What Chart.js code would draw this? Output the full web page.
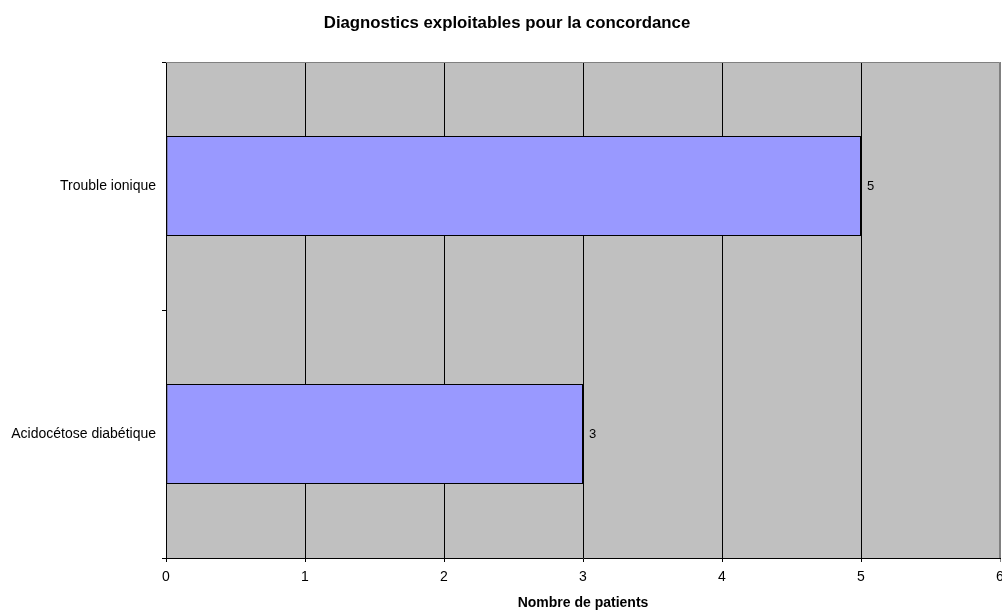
<!DOCTYPE html>
<html>
<head>
<meta charset="utf-8">
<script src="https://cdn.jsdelivr.net/npm/chart.js@4/dist/chart.umd.min.js"></script>
<style>
  html,body{margin:0;padding:0;background:#fff;}
  #wrap{width:1002px;height:611px;}
</style>
</head>
<body>
<div id="wrap"><canvas id="chart"></canvas></div>
<script>
// Chart data
const TITLE = 'Diagnostics exploitables pour la concordance';
const categories = ['Trouble ionique', 'Acidocétose diabétique'];
const patients = [5, 3];
const xTicks = [0, 1, 2, 3, 4, 5, 6];

const FONT = '"Liberation Sans", Arial, sans-serif';

// gray plot area + gray top/right frame + title
const plotBg = {
  id: 'plotBg',
  beforeDraw(chart){
    const {ctx, chartArea:a} = chart;
    ctx.save();
    ctx.fillStyle = '#c0c0c0';
    ctx.fillRect(a.left, a.top, a.right - a.left, a.bottom - a.top);
    ctx.restore();
  },
  afterDraw(chart){
    const {ctx, chartArea:a} = chart;
    ctx.save();
    ctx.strokeStyle = '#808080';
    ctx.lineWidth = 1;
    ctx.beginPath();
    ctx.moveTo(a.left, a.top + 0.5);
    ctx.lineTo(a.right - 0.5, a.top + 0.5);
    ctx.lineTo(a.right - 0.5, a.bottom);
    ctx.stroke();
    // title, slightly right of the canvas centre like the original
    ctx.font = 'bold 16.8px ' + FONT;
    ctx.fillStyle = '#000';
    ctx.textAlign = 'center';
    ctx.textBaseline = 'middle';
    ctx.fillText(TITLE, 507, 23);
    ctx.restore();
  }
};

// value labels at the bar ends
const valueLabels = {
  id: 'valueLabels',
  afterDatasetsDraw(chart){
    const {ctx} = chart;
    const meta = chart.getDatasetMeta(0);
    ctx.save();
    ctx.font = '13px ' + FONT;
    ctx.fillStyle = '#000';
    ctx.textAlign = 'left';
    ctx.textBaseline = 'middle';
    meta.data.forEach((bar, i)=>{
      ctx.fillText(String(patients[i]), bar.x + 6, bar.y);
    });
    ctx.restore();
  }
};

new Chart(document.getElementById('chart').getContext('2d'), {
  type: 'bar',
  data: {
    labels: categories,
    datasets: [{
      data: patients,
      backgroundColor: '#9999ff',
      borderColor: '#000',
      borderWidth: 1,
      borderSkipped: false,
      categoryPercentage: 1,
      barPercentage: 0.403
    }]
  },
  options: {
    indexAxis: 'y',
    responsive: true,
    maintainAspectRatio: false,
    animation: false,
    devicePixelRatio: 1,
    layout: { padding: { left: 0, right: 2, top: 62, bottom: 0 } },
    plugins: {
      legend: { display: false },
      tooltip: { enabled: false },
      title: { display: false }
    },
    scales: {
      x: {
        min: 0, max: 6,
        afterFit(scale){ scale.height = 53; scale.paddingLeft = 0; scale.paddingRight = 0; },
        afterBuildTicks(scale){ scale.ticks = xTicks.map(v=>({value:v})); },
        ticks: { color: '#000', font: { family: FONT, size: 14 }, padding: 7, maxRotation: 0 },
        grid: {
          color: ctx => ctx.tick && ctx.tick.value === 6 ? '#808080' : '#000',
          lineWidth: 1,
          tickLength: 4,
          drawOnChartArea: true
        },
        border: { color: '#000', width: 1 },
        title: {
          display: true,
          text: 'Nombre de patients',
          color: '#000',
          font: { family: FONT, size: 14, weight: 'bold', lineHeight: 1 },
          padding: { top: 0, bottom: 1 }
        }
      },
      y: {
        afterFit(scale){ scale.width = 166; scale.paddingTop = 0; scale.paddingBottom = 0; },
        ticks: { color: '#000', font: { family: FONT, size: 14 }, padding: 6 },
        grid: {
          offset: true,
          color: '#000',
          drawOnChartArea: false,
          tickLength: 4
        },
        border: { color: '#000', width: 1 }
      }
    }
  },
  plugins: [plotBg, valueLabels]
});
</script>
</body>
</html>
